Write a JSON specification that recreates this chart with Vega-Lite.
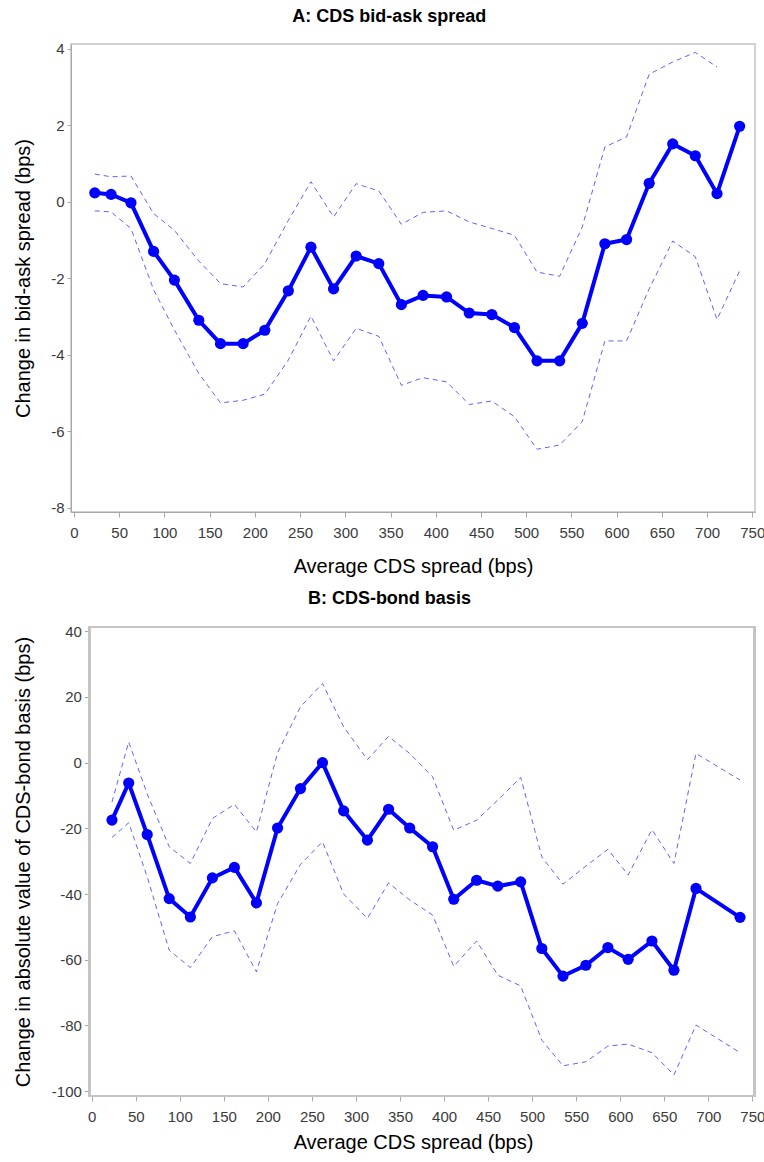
{
  "$schema": "https://vega.github.io/schema/vega-lite/v6.json",
  "padding": {"left": 12, "top": 6, "right": 0, "bottom": 4},
  "spacing": 12,
  "config": {
    "font": "Liberation Sans",
    "view": {"stroke": "#c4c4c4", "strokeWidth": 1.5},
    "axis": {"grid": false, "domainColor": "#a8a8a8", "tickColor": "#a8a8a8", "labelColor": "#3a3a3a", "labelFontSize": 15, "titleFontSize": 20, "titleFontWeight": "normal", "titleColor": "#000000", "labelFont": "Liberation Sans", "titleFont": "Liberation Sans", "labelExpr": "'' + datum.value"},
    "title": {"fontSize": 18, "fontWeight": "bold", "color": "#000000", "font": "Liberation Sans", "frame": "bounds", "anchor": "middle", "offset": 16}
  },
  "datasets": {
    "A": [
      {"x": 23, "est": 0.23, "lo": -0.24, "hi": 0.72},
      {"x": 41, "est": 0.19, "lo": -0.27, "hi": 0.65},
      {"x": 63, "est": -0.03, "lo": -0.70, "hi": 0.67},
      {"x": 88, "est": -1.30, "lo": -2.30, "hi": -0.31},
      {"x": 111, "est": -2.05, "lo": -3.35, "hi": -0.75},
      {"x": 138, "est": -3.10, "lo": -4.49, "hi": -1.55},
      {"x": 162, "est": -3.71, "lo": -5.26, "hi": -2.14},
      {"x": 187, "est": -3.71, "lo": -5.19, "hi": -2.23},
      {"x": 211, "est": -3.36, "lo": -5.03, "hi": -1.62},
      {"x": 237, "est": -2.33, "lo": -4.14, "hi": -0.49},
      {"x": 262, "est": -1.19, "lo": -2.99, "hi": 0.52},
      {"x": 287, "est": -2.28, "lo": -4.16, "hi": -0.40},
      {"x": 312, "est": -1.42, "lo": -3.31, "hi": 0.47},
      {"x": 337, "est": -1.62, "lo": -3.52, "hi": 0.28},
      {"x": 362, "est": -2.69, "lo": -4.80, "hi": -0.59},
      {"x": 386, "est": -2.45, "lo": -4.60, "hi": -0.28},
      {"x": 412, "est": -2.49, "lo": -4.71, "hi": -0.24},
      {"x": 437, "est": -2.91, "lo": -5.30, "hi": -0.53},
      {"x": 462, "est": -2.95, "lo": -5.21, "hi": -0.70},
      {"x": 487, "est": -3.29, "lo": -5.62, "hi": -0.88},
      {"x": 512, "est": -4.16, "lo": -6.47, "hi": -1.84},
      {"x": 537, "est": -4.16, "lo": -6.36, "hi": -1.95},
      {"x": 562, "est": -3.18, "lo": -5.75, "hi": -0.66},
      {"x": 587, "est": -1.10, "lo": -3.64, "hi": 1.43},
      {"x": 611, "est": -0.99, "lo": -3.64, "hi": 1.69},
      {"x": 636, "est": 0.48, "lo": -2.28, "hi": 3.33},
      {"x": 662, "est": 1.51, "lo": -1.03, "hi": 3.65},
      {"x": 687, "est": 1.20, "lo": -1.44, "hi": 3.90},
      {"x": 711, "est": 0.21, "lo": -3.08, "hi": 3.52},
      {"x": 736, "est": 1.97, "lo": -1.81, "hi": null}
    ],
    "B": [
      {"x": 23, "est": -17.5, "lo": -22.8, "hi": -12.0},
      {"x": 42, "est": -6.2, "lo": -18.3, "hi": 6.3},
      {"x": 63, "est": -21.9, "lo": -34.8, "hi": -9.5},
      {"x": 88, "est": -41.4, "lo": -57.1, "hi": -25.6},
      {"x": 112, "est": -47.0, "lo": -62.4, "hi": -30.7},
      {"x": 137, "est": -35.1, "lo": -53.0, "hi": -17.0},
      {"x": 162, "est": -31.9, "lo": -51.2, "hi": -12.7},
      {"x": 187, "est": -42.7, "lo": -63.7, "hi": -21.1},
      {"x": 211, "est": -19.9, "lo": -42.9, "hi": 3.0},
      {"x": 237, "est": -7.9, "lo": -31.0, "hi": 17.0},
      {"x": 262, "est": 0.0, "lo": -24.1, "hi": 24.1},
      {"x": 286, "est": -14.7, "lo": -40.0, "hi": 10.9},
      {"x": 313, "est": -23.6, "lo": -47.4, "hi": 0.9},
      {"x": 337, "est": -14.2, "lo": -36.6, "hi": 8.0},
      {"x": 361, "est": -19.9, "lo": -41.8, "hi": 2.8},
      {"x": 387, "est": -25.6, "lo": -46.4, "hi": -4.3},
      {"x": 411, "est": -41.6, "lo": -62.0, "hi": -20.6},
      {"x": 437, "est": -35.8, "lo": -54.3, "hi": -17.5},
      {"x": 461, "est": -37.6, "lo": -64.7, "hi": -11.4},
      {"x": 487, "est": -36.3, "lo": -68.0, "hi": -4.5},
      {"x": 511, "est": -56.6, "lo": -84.5, "hi": -28.7},
      {"x": 535, "est": -65.0, "lo": -92.3, "hi": -37.0},
      {"x": 561, "est": -61.7, "lo": -91.1, "hi": -31.5},
      {"x": 586, "est": -56.3, "lo": -86.3, "hi": -26.4},
      {"x": 609, "est": -59.9, "lo": -85.7, "hi": -34.2},
      {"x": 636, "est": -54.3, "lo": -88.3, "hi": -20.4},
      {"x": 661, "est": -63.2, "lo": -95.1, "hi": -30.7},
      {"x": 686, "est": -38.3, "lo": -79.9, "hi": 2.8},
      {"x": 736, "est": -47.1, "lo": -88.3, "hi": -5.3}
    ]
  },
  "vconcat": [
    {
      "title": {"text": "A: CDS bid-ask spread"},
      "width": 684,
      "height": 468,
      "data": {"name": "A"},
      "encoding": {
        "x": {"field": "x", "type": "quantitative", "scale": {"domain": [-3.3, 753], "nice": false, "zero": false},
          "axis": {"title": "Average CDS spread (bps)", "values": [0,50,100,150,200,250,300,350,400,450,500,550,600,650,700,750], "tickSize": 5, "labelPadding": 8.5, "titlePadding": 16, "labelFlush": false, "labelOverlap": false}}
      },
      "layer": [
        {"mark": {"type": "line", "color": "#5050ff", "strokeWidth": 1, "strokeDash": [5, 4], "opacity": 0.9},
          "encoding": {"y": {"field": "lo", "type": "quantitative", "scale": {"domain": [-8.11, 4.12], "nice": false, "zero": false},
            "axis": {"title": "Change in bid-ask spread (bps)", "values": [-8,-6,-4,-2,0,2,4], "tickSize": 4, "labelPadding": 3, "minExtent": 27, "maxExtent": 27, "titlePadding": 10.3, "labelFlush": false}}}},
        {"mark": {"type": "line", "color": "#5050ff", "strokeWidth": 1, "strokeDash": [5, 4], "opacity": 0.9},
          "encoding": {"y": {"field": "hi", "type": "quantitative"}}},
        {"mark": {"type": "line", "color": "#0000ff", "strokeWidth": 4},
          "encoding": {"y": {"field": "est", "type": "quantitative"}}},
        {"mark": {"type": "point", "filled": true, "shape": "circle", "color": "#0000ff", "opacity": 1, "size": 125},
          "encoding": {"y": {"field": "est", "type": "quantitative"}}}
      ]
    },
    {
      "title": {"text": "B: CDS-bond basis"},
      "width": 684,
      "height": 469,
      "view": {"stroke": null},
      "data": {"name": "B"},
      "encoding": {
        "x": {"field": "x", "type": "quantitative", "scale": {"domain": [-23.5, 753.0], "nice": false, "zero": false},
          "axis": {"title": "Average CDS spread (bps)", "values": [0,50,100,150,200,250,300,350,400,450,500,550,600,650,700,750], "domain": false, "tickSize": 5, "labelPadding": 8.5, "titlePadding": 8, "labelFlush": false, "labelOverlap": false}}
      },
      "layer": [
        {"mark": {"type": "rect", "fill": null, "stroke": "#c4c4c4", "strokeWidth": 1.5},
          "encoding": {
            "x": {"datum": -2.6, "type": "quantitative"},
            "x2": {"datum": 752.3},
            "y": {"datum": -101.5, "type": "quantitative"},
            "y2": {"datum": 41.3}
          }},
        {"mark": {"type": "line", "color": "#5050ff", "strokeWidth": 1, "strokeDash": [5, 4], "opacity": 0.9},
          "encoding": {"y": {"field": "lo", "type": "quantitative", "scale": {"domain": [-101.5, 41.3], "nice": false, "zero": false},
            "axis": {"title": "Change in absolute value of CDS-bond basis (bps)", "values": [-100,-80,-60,-40,-20,0,20,40], "offset": -18.4, "domain": false, "tickSize": 5, "labelPadding": 3, "minExtent": 45, "maxExtent": 45, "titlePadding": 10.5, "labelFlush": false}}}},
        {"mark": {"type": "line", "color": "#5050ff", "strokeWidth": 1, "strokeDash": [5, 4], "opacity": 0.9},
          "encoding": {"y": {"field": "hi", "type": "quantitative"}}},
        {"mark": {"type": "line", "color": "#0000ff", "strokeWidth": 4},
          "encoding": {"y": {"field": "est", "type": "quantitative"}}},
        {"mark": {"type": "point", "filled": true, "shape": "circle", "color": "#0000ff", "opacity": 1, "size": 125},
          "encoding": {"y": {"field": "est", "type": "quantitative"}}}
      ]
    }
  ]
}
